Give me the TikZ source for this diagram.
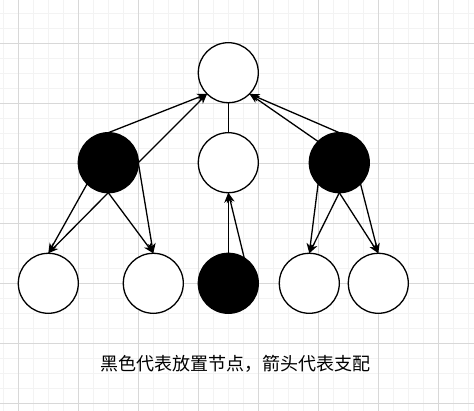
\documentclass[tikz,border=0pt]{standalone}
\usepackage{fontspec}
\newfontfamily\cjk{Noto Sans CJK SC}
\usetikzlibrary{arrows.meta,positioning}
\definecolor{GridMinor}{HTML}{F3F3F3}
\definecolor{GridMajor}{HTML}{D8D8D8}

\begin{document}
\begin{tikzpicture}[
    x=1pt,y=-1pt,
    minorline/.style={draw=GridMinor,line width=1pt},
    majorline/.style={draw=GridMajor,line width=1pt},
    vertex/.style={circle,draw=black,line width=1.3pt,fill=white,minimum size=60pt,inner sep=0pt,outer sep=0pt},
    placed/.style={vertex,fill=black},
    dom/.style={-{Stealth[length=10pt,width=8pt,inset=3pt]},line width=1.3pt,draw=black}
  ]
  \useasboundingbox (0,0) rectangle (474,411);
  % background grid
  \fill[white] (0,0) rectangle (474,411);
  \foreach \x in {3.3,18.3,...,474} \draw[minorline] (\x,0) -- (\x,411);
  \foreach \y in {13.3,28.3,...,411} \draw[minorline] (0,\y) -- (474,\y);
  \foreach \x in {18.3,78.3,...,474} \draw[majorline] (\x,0) -- (\x,411);
  \foreach \y in {43.3,103.3,...,411} \draw[majorline] (0,\y) -- (474,\y);

  % tree
  \node[vertex] (root) at (228.3,72.7) {};
  \node[vertex,below=30pt of root] (mid) {};
  \node[placed,left=60pt of mid] (lblk) {};
  \node[placed,right=51pt of mid] (rblk) {};
  \node[placed,below=60.6pt of mid] (bblk) {};
  \node[vertex,left=15pt of bblk] (leafb) {};
  \node[vertex,left=45pt of leafb] (leafa) {};
  \node[vertex,right=21pt of bblk] (leafc) {};
  \node[vertex,right=9pt of leafc] (leafd) {};

  \draw[line width=1.3pt] (root) -- (mid);
  \draw[dom] (lblk.north) -- (root.south west);
  \draw[dom] (lblk.east) -- (root.south west);
  \draw[dom] (rblk.north) -- (root.south east);
  \draw[dom] (rblk.north west) -- (root.south east);
  \draw[dom] (lblk.south west) -- (leafa.north);
  \draw[dom] (lblk.south) -- (leafa.north);
  \draw[dom] (lblk.south) -- (leafb.north);
  \draw[dom] (lblk.east) -- (leafb.north);
  \draw[dom] (bblk.north) -- (mid.south);
  \draw[dom] (bblk.58) -- (mid.south);
  \draw[dom] (rblk.south west) -- (leafc.north);
  \draw[dom] (rblk.south) -- (leafc.north);
  \draw[dom] (rblk.south) -- (leafd.north);
  \draw[dom] (rblk.south east) -- (leafd.north);

  \node[font=\cjk\fontsize{18}{20}\selectfont] (caption) at (235.8,364) {黑色代表放置节点，箭头代表支配};
\end{tikzpicture}
\end{document}
